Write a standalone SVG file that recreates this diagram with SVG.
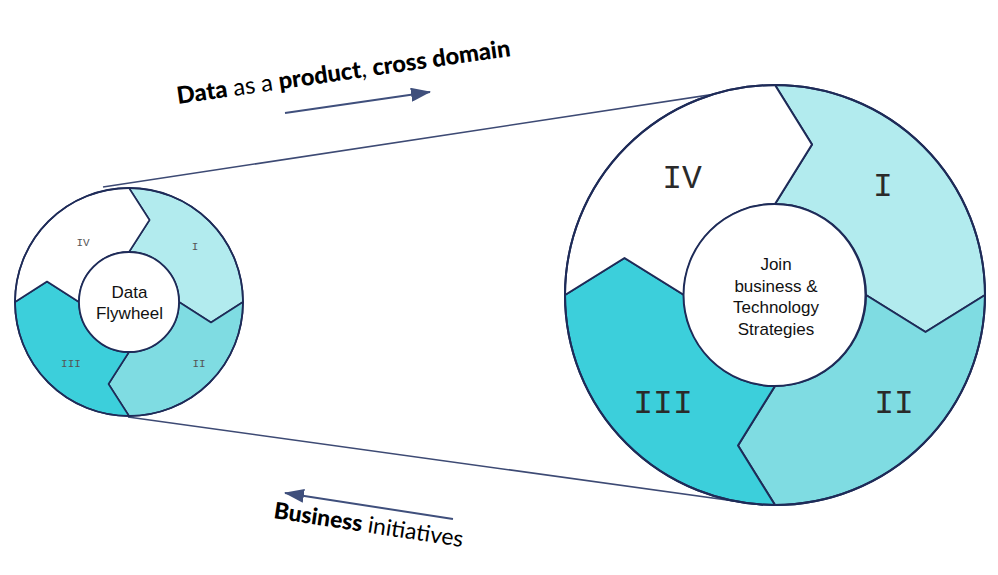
<svg xmlns="http://www.w3.org/2000/svg" width="998" height="575" viewBox="0 0 998 575">
  <style>
    .seg { stroke: #1e2b58; stroke-width: 2; stroke-linejoin: round; }
    .segs { stroke: #1e2b58; stroke-width: 1.6; stroke-linejoin: round; }
    .s1 { fill: #b2ebee; }
    .s2 { fill: #7fdce2; }
    .s3 { fill: #3ccfdb; }
    .s4 { fill: #ffffff; }
    .ring { fill: none; stroke: #1e2b58; }
    .hub { fill: #ffffff; stroke: #1e2b58; }
    .num { font-family: "Liberation Mono", "Courier New", monospace; text-anchor: middle; }
    .numL { font-size: 33px; fill: #2a2a2a; }
    .numS { font-size: 11px; fill: #555555; }
    .center { font-family: "Liberation Sans", Arial, sans-serif; font-size: 17px; fill: #111111; text-anchor: middle; }
    .conn { stroke: #3d4a74; stroke-width: 1.6; fill: none; }
    .arrow { stroke: #3f4f7c; stroke-width: 2; fill: none; }
    .label { font-family: Lato, "Open Sans", sans-serif; fill: #000000; }
    .b { font-weight: 900; }
  </style>
  <defs>
    <marker id="ahb" viewBox="0 0 20 14" refX="19" refY="7" markerWidth="20" markerHeight="14" markerUnits="userSpaceOnUse" orient="auto">
      <path d="M0,0 L20,7 L0,14 Z" fill="#3f4f7c"/>
    </marker>
  </defs>

  <g id="connectors">
    <line class="conn" x1="103" y1="187" x2="775" y2="85"/>
    <line class="conn" x1="128" y1="417" x2="763" y2="505"/>
    <line class="arrow" x1="285" y1="113" x2="430" y2="92" marker-end="url(#ahb)"/>
    <line class="arrow" x1="453" y1="519" x2="285" y2="493" marker-end="url(#ahb)"/>
  </g>

  <g id="small-wheel">
    <g id="small-seg-I">
      <path class="segs s1" d="M129,188 A114,114 0 0 1 243,302 L211,322.5 L179,302 A50,50 0 0 0 129,252 L149.5,220 Z"/>
      <text class="num numS" x="195" y="250">I</text>
    </g>
    <g id="small-seg-II">
      <path class="segs s2" d="M243,302 A114,114 0 0 1 129,416 L108.5,384 L129,352 A50,50 0 0 0 179,302 L211,322.5 Z"/>
      <text class="num numS" x="199" y="367">II</text>
    </g>
    <g id="small-seg-III">
      <path class="segs s3" d="M129,416 A114,114 0 0 1 15,302 L47,281.5 L79,302 A50,50 0 0 0 129,352 L108.5,384 Z"/>
      <text class="num numS" x="71" y="367">III</text>
    </g>
    <g id="small-seg-IV">
      <path class="segs s4" d="M15,302 A114,114 0 0 1 129,188 L149.5,220 L129,252 A50,50 0 0 0 79,302 L47,281.5 Z"/>
      <text class="num numS" x="83" y="246" fill="#666666">IV</text>
    </g>
    <circle class="ring" cx="129" cy="302" r="114" stroke-width="1.8"/>
    <g id="small-hub">
      <circle class="hub" cx="129" cy="302" r="50" stroke-width="1.8"/>
      <text class="center" x="129.5" y="298">Data</text>
      <text class="center" x="129.5" y="319">Flywheel</text>
    </g>
  </g>

  <g id="large-wheel">
    <g id="large-seg-I">
      <path class="seg s1" d="M775,85 A210,210 0 0 1 985,295 L925.5,332 L866,295 A91,91 0 0 0 775,204 L812,144.5 Z"/>
      <text class="num numL" x="883" y="196">I</text>
    </g>
    <g id="large-seg-II">
      <path class="seg s2" d="M985,295 A210,210 0 0 1 775,505 L738,445.5 L775,386 A91,91 0 0 0 866,295 L925.5,332 Z"/>
      <text class="num numL" x="894" y="413">II</text>
    </g>
    <g id="large-seg-III">
      <path class="seg s3" d="M775,505 A210,210 0 0 1 565,295 L624.5,258 L684,295 A91,91 0 0 0 775,386 L738,445.5 Z"/>
      <text class="num numL" x="663" y="413">III</text>
    </g>
    <g id="large-seg-IV">
      <path class="seg s4" d="M565,295 A210,210 0 0 1 775,85 L812,144.5 L775,204 A91,91 0 0 0 684,295 L624.5,258 Z"/>
      <text class="num numL" x="682" y="188">IV</text>
    </g>
    <circle class="ring" cx="775" cy="295" r="210" stroke-width="2"/>
    <g id="large-hub">
      <circle class="hub" cx="774.5" cy="295" r="91" stroke-width="2"/>
      <text class="center" x="776" y="270">Join</text>
      <text class="center" x="776" y="291.5">business &amp;</text>
      <text class="center" x="776" y="313">Technology</text>
      <text class="center" x="776" y="334.5">Strategies</text>
    </g>
  </g>

  <g id="label-top">
    <text class="label" x="178" y="104" font-size="23.7" transform="rotate(-8.2 178 104)"><tspan class="b">Data</tspan> as a <tspan class="b">product</tspan>, <tspan class="b">cross domain</tspan></text>
  </g>
  <g id="label-bottom">
    <text class="label" x="273" y="518" font-size="22.8" transform="rotate(8.7 273 518)"><tspan class="b">Business</tspan> initiatives</text>
  </g>
</svg>
